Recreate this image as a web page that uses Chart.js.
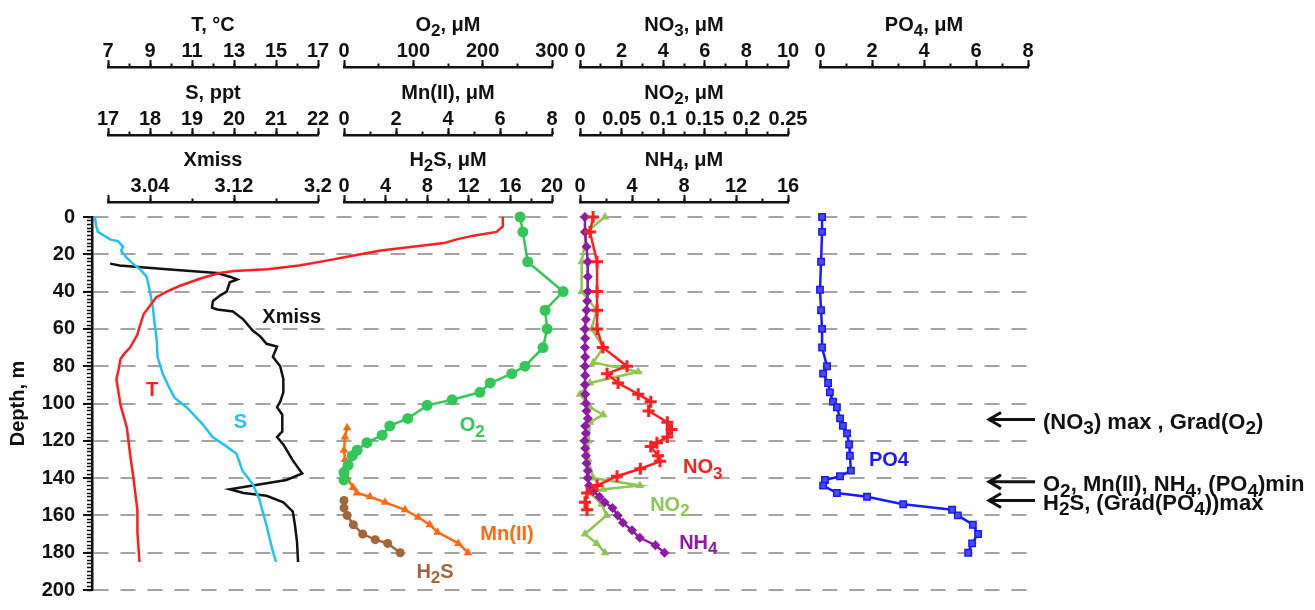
<!DOCTYPE html>
<html>
<head>
<meta charset="utf-8">
<script src="https://cdn.jsdelivr.net/npm/chart.js@4.4.1/dist/chart.umd.min.js"></script>
<style>
  html, body { margin: 0; padding: 0; background: #fff; }
  #wrap { width: 1315px; height: 610px; }
</style>
</head>
<body>
<div id="wrap"><canvas id="grafico" width="1315" height="610"></canvas></div>
<script>
// ---- datos: perfiles verticales (profundidad en m) ----
const tDepth = [0, 5, 8, 10, 12, 14, 16, 18, 21, 23, 26, 28, 29, 30, 33, 37, 40, 43, 49, 52, 59, 63, 70, 73, 76, 82, 87, 94, 101, 113, 127, 139, 157, 169, 185];
const tValue = [25.8, 25.8, 25.5, 24.4, 23.6, 23.0, 21.5, 20.0, 18.5, 17.6, 16.1, 14.6, 13.0, 12.3, 11.4, 10.4, 9.8, 9.3, 8.9, 8.7, 8.5, 8.4, 8.05, 7.8, 7.6, 7.5, 7.4, 7.5, 7.6, 7.9, 8.05, 8.2, 8.4, 8.4, 8.5];

const sDepth = [0, 5, 8, 12, 13, 16, 18, 22, 25, 28, 32, 40, 49, 57, 66, 75, 84, 92, 97, 102, 111, 118, 123, 127, 136, 143, 151, 165, 178, 185];
const sValue = [16.69, 16.72, 16.76, 17.05, 17.24, 17.36, 17.31, 17.45, 17.59, 17.76, 17.92, 18.0, 18.07, 18.11, 18.16, 18.18, 18.3, 18.47, 18.59, 18.87, 19.25, 19.49, 19.82, 20.06, 20.2, 20.44, 20.6, 20.77, 20.91, 21.0];

const xmDepth = [25, 26, 28, 30, 32, 33.5, 35, 40, 42, 45, 48.6, 49.6, 50.7, 55, 61, 64, 68, 69.5, 75, 80, 87, 94, 99, 102, 106, 115, 118, 122, 130.5, 136, 137.5, 141, 144, 146, 148, 149.5, 153, 158, 165, 174, 185];
const xmValue = [3.002, 3.011, 3.056, 3.104, 3.116, 3.123, 3.116, 3.113, 3.107, 3.1, 3.099, 3.104, 3.119, 3.129, 3.138, 3.145, 3.151, 3.161, 3.157, 3.164, 3.167, 3.167, 3.164, 3.161, 3.166, 3.166, 3.161, 3.167, 3.176, 3.183, 3.185, 3.17, 3.138, 3.116, 3.129, 3.151, 3.167, 3.176, 3.178, 3.18, 3.181];

const o2Depth = [0, 8, 24, 40, 50, 60, 70, 80, 84, 89, 94, 98, 101, 108, 112, 117, 121, 125, 128, 133, 137, 141];
const o2Value = [254, 258, 265, 316, 290, 293, 287, 261, 242, 211, 196, 156, 120, 92, 66, 55, 33, 19, 12, 6, 0, 0];

const mnDepth = [113, 118, 125, 130, 135, 140, 145, 148, 150, 153, 157, 161, 165, 169, 175, 180];
const mnValue = [0.12, 0.04, 0, 0.04, 0, 0.12, 0.35, 0.5, 1.0, 1.58, 2.35, 2.85, 3.3, 3.6, 4.4, 4.77];

const h2sDepth = [152, 156, 160, 165, 170, 173, 175, 180];
const h2sValue = [0, 0, 0.3, 0.9, 1.8, 3.0, 4.2, 5.4];

const no3Depth = [0, 8, 24, 40, 50, 60, 70, 80, 84, 89, 95, 99, 104, 110, 114, 118, 121, 123, 128, 131, 135, 139, 144, 148, 153, 157];
const no3Value = [0.63, 0.48, 0.82, 0.82, 0.82, 0.82, 1.1, 2.26, 1.3, 1.83, 2.8, 3.4, 3.3, 4.2, 4.4, 4.2, 3.7, 3.4, 3.75, 3.85, 2.9, 1.78, 0.82, 0.34, 0.24, 0.34];

const no2Depth = [0, 8, 24, 40, 50, 60, 70, 78, 83, 89, 95, 102, 106, 110, 120, 130, 140, 144, 146, 148, 154, 160, 170, 175, 180];
const no2Value = [0.03, 0.008, 0.002, 0.002, 0.02, 0.014, 0.028, 0.016, 0.07, 0.012, 0, 0.012, 0.028, 0.012, 0.01, 0.01, 0.016, 0.072, 0.028, 0.012, 0.026, 0.032, 0.006, 0.02, 0.03];

const nh4Depth = [0, 8, 16, 24, 32, 40, 45, 50, 55, 60, 65, 70, 75, 80, 85, 90, 95, 100, 104, 108, 112, 116, 120, 124, 128, 132, 136, 140, 144, 147, 150, 153, 156, 160, 164, 168, 172, 176, 180];
const nh4Value = [0.38, 0.38, 0.5, 0.6, 0.6, 0.6, 0.55, 0.5, 0.45, 0.38, 0.4, 0.38, 0.4, 0.38, 0.4, 0.38, 0.4, 0.45, 0.5, 0.6, 0.4, 0.45, 0.35, 0.4, 0.45, 0.5, 0.6, 0.6, 0.7, 1.0, 1.5, 1.9, 2.5, 2.9, 3.3, 4.0, 4.6, 5.8, 6.5];

const po4Depth = [0, 8, 24, 39, 50, 60, 70, 80, 84, 89, 94, 99, 102, 108, 112, 116, 122, 128, 136, 139, 141, 144, 148, 150, 154, 157, 160, 165, 170, 175, 180];
const po4Value = [0.08, 0.08, 0.04, 0, 0.04, 0.08, 0.08, 0.27, 0.12, 0.31, 0.38, 0.5, 0.65, 0.77, 0.88, 1.04, 1.12, 1.15, 1.19, 0.77, 0.19, 0.12, 0.65, 1.81, 3.2, 5.08, 5.3, 5.88, 6.08, 5.85, 5.7];

// etiquetas de los ejes
const depthTicks = [0, 20, 40, 60, 80, 100, 120, 140, 160, 180, 200];
const tTicks = [7, 9, 11, 13, 15, 17];
const sTicks = [17, 18, 19, 20, 21, 22];
const xmTicks = [3.04, 3.12, 3.2];
const o2Ticks = [0, 100, 200, 300];
const mnTicks = [0, 2, 4, 6, 8];
const h2sTicks = [0, 4, 8, 12, 16, 20];
const no3Ticks = [0, 2, 4, 6, 8, 10];
const no2Ticks = [0, 0.05, 0.1, 0.15, 0.2, 0.25];
const nh4Ticks = [0, 4, 8, 12, 16];
const po4Ticks = [0, 2, 4, 6, 8];

// ---- layout ----
const FONT = '"Liberation Sans", Arial, Helvetica, sans-serif';
const panels = [[108, 318], [344, 552], [580, 788], [820, 1028]];
const rowBottoms = [67, 135, 202];

const axes = [
  { id: 'T',   panel: 0, row: 0, min: 7,   max: 17,   ticks: tTicks,   minor: 1,     title: 'T, °C' },
  { id: 'S',   panel: 0, row: 1, min: 17,  max: 22,   ticks: sTicks,   minor: 0.5,   title: 'S, ppt' },
  { id: 'XM',  panel: 0, row: 2, min: 3.0, max: 3.2,  ticks: xmTicks,  minor: 0.04,  title: 'Xmiss' },
  { id: 'O2',  panel: 1, row: 0, min: 0,   max: 300,  ticks: o2Ticks,  minor: 50,    title: 'O_{2}, μM' },
  { id: 'MN',  panel: 1, row: 1, min: 0,   max: 8,    ticks: mnTicks,  minor: 1,     title: 'Mn(II), μM' },
  { id: 'H2S', panel: 1, row: 2, min: 0,   max: 20,   ticks: h2sTicks, minor: 2,     title: 'H_{2}S, μM' },
  { id: 'NO3', panel: 2, row: 0, min: 0,   max: 10,   ticks: no3Ticks, minor: 1,     title: 'NO_{3}, μM' },
  { id: 'NO2', panel: 2, row: 1, min: 0,   max: 0.25, ticks: no2Ticks, minor: 0.025, title: 'NO_{2}, μM' },
  { id: 'NH4', panel: 2, row: 2, min: 0,   max: 16,   ticks: nh4Ticks, minor: 2,     title: 'NH_{4}, μM' },
  { id: 'PO4', panel: 3, row: 0, min: 0,   max: 8,    ticks: po4Ticks, minor: 1,     title: 'PO_{4}, μM' }
];

const RED = '#ff1f1f', CYAN = '#22c3f2', BLACK = '#111111', GREEN = '#33c75a',
      ORANGE = '#ff6a10', BROWN = '#a0683a', LGREEN = '#8dc653', PURPLE = '#8e1aa6', BLUE = '#1a1aff';

// dibuja texto con subíndices marcados como _{..}
function richText(ctx, str, x, y, size, color, align) {
  const parts = [];
  str.split(/(_\{[^}]*\})/).forEach(p => {
    if (!p) return;
    if (p.startsWith('_{')) parts.push({ t: p.slice(2, -1), sub: true });
    else parts.push({ t: p, sub: false });
  });
  const big = 'bold ' + size + 'px ' + FONT;
  const small = 'bold ' + Math.round(size * 0.85) + 'px ' + FONT;
  let w = 0;
  parts.forEach(p => { ctx.font = p.sub ? small : big; p.w = ctx.measureText(p.t).width; w += p.w; });
  let cx = align === 'left' ? x : x - w / 2;
  ctx.save();
  ctx.fillStyle = color;
  ctx.textBaseline = 'middle';
  ctx.textAlign = 'left';
  parts.forEach(p => {
    ctx.font = p.sub ? small : big;
    ctx.fillText(p.t, cx, p.sub ? y + size * 0.3 : y);
    cx += p.w;
  });
  ctx.restore();
}

function fmt(v) { return String(+v.toFixed(3)); }

const scales = {
  y: {
    type: 'linear', position: 'left', reverse: true, min: 0, max: 200,
    afterBuildTicks: s => { s.ticks = depthTicks.map(v => ({ value: v })); },
    afterFit: s => { s.width = 92; },
    ticks: { autoSkip: false, padding: 8, color: BLACK, font: { family: FONT, size: 20, weight: 'bold' } },
    grid: { color: '#a4a4a4', lineWidth: 2, tickLength: 9, tickWidth: 2, tickColor: BLACK },
    border: { display: true, color: BLACK, width: 2.5, dash: [15, 12] },
    title: { display: true, text: 'Depth, m', color: BLACK, padding: { top: 6 }, font: { family: FONT, size: 20, weight: 'bold' } }
  },
  yMinor: {
    type: 'linear', position: 'left', reverse: true, min: 0, max: 200,
    afterBuildTicks: s => {
      const t = [];
      for (let v = 0; v <= 200; v += 2) t.push({ value: v });
      s.ticks = t;
    },
    afterFit: s => { s.width = 0; },
    ticks: { display: false },
    grid: { drawOnChartArea: false, tickLength: 5, tickWidth: 1.5, tickColor: BLACK },
    border: { display: false }
  }
};

axes.forEach(a => {
  const majors = [...new Set([a.min, ...a.ticks, a.max])];
  scales[a.id] = {
    type: 'linear', position: 'top', min: a.min, max: a.max,
    afterBuildTicks: s => { s.ticks = majors.map(v => ({ value: v })); },
    afterFit: s => { s.height = 0; },
    grid: { drawOnChartArea: false, tickLength: 7, tickWidth: 2, tickColor: BLACK },
    border: { display: true, color: BLACK, width: 2.5 },
    ticks: {
      autoSkip: false, maxRotation: 0, minRotation: 0, padding: -3, color: BLACK,
      font: { family: FONT, size: 20, weight: 'bold' },
      callback: v => a.ticks.some(t => Math.abs(t - v) < 1e-9) ? fmt(v) : ''
    },
    title: { display: false }
  };
  scales[a.id + 'm'] = {
    type: 'linear', position: 'top', min: a.min, max: a.max,
    afterBuildTicks: s => {
      const t = [];
      const n = Math.round((a.max - a.min) / a.minor);
      for (let i = 0; i <= n; i++) t.push({ value: a.min + i * a.minor });
      s.ticks = t;
    },
    afterFit: s => { s.height = 0; },
    grid: { drawOnChartArea: false, tickLength: 3.5, tickWidth: 2, tickColor: BLACK },
    border: { display: false },
    ticks: { display: false }
  };
});

function serie(axis, depth, vals, color, extra) {
  return Object.assign({
    xAxisID: axis, yAxisID: 'y',
    data: depth.map((d, i) => ({ x: vals[i], y: d })),
    showLine: true, borderColor: color, backgroundColor: color,
    borderWidth: 2.5, pointRadius: 0, tension: 0, clip: false
  }, extra || {});
}

const datasets = [
  serie('T', tDepth, tValue, RED),
  serie('S', sDepth, sValue, CYAN),
  serie('XM', xmDepth, xmValue, BLACK),
  serie('O2', o2Depth, o2Value, GREEN, { pointStyle: 'circle', pointRadius: 5.5, pointBorderWidth: 0 }),
  serie('MN', mnDepth, mnValue, ORANGE, { pointStyle: 'triangle', pointRadius: 5, pointBorderWidth: 0 }),
  serie('H2S', h2sDepth, h2sValue, BROWN, { pointStyle: 'circle', pointRadius: 4.5, pointBorderWidth: 0 }),
  serie('NO3', no3Depth, no3Value, RED, { pointStyle: 'cross', pointRadius: 6, pointBorderWidth: 3 }),
  serie('NH4', nh4Depth, nh4Value, PURPLE, { pointStyle: 'rectRot', pointRadius: 5, pointBorderWidth: 0 }),
  serie('NO2', no2Depth, no2Value, LGREEN, { pointStyle: 'triangle', pointRadius: 5, pointBorderWidth: 0 }),
  serie('PO4', po4Depth, po4Value, BLUE, { pointStyle: 'rect', pointRadius: 4.5, pointBorderWidth: 1.5, backgroundColor: '#4a4aff' })
];

// rótulos de cada serie (eje, valor, profundidad)
const seriesLabels = [
  ['T', 9.1, 93, 'T', RED],
  ['S', 20.15, 110, 'S', CYAN],
  ['XM', 3.175, 54, 'Xmiss', BLACK],
  ['O2', 185, 112, 'O_{2}', GREEN],
  ['MN', 6.27, 170, 'Mn(II)', ORANGE],
  ['H2S', 8.75, 190.5, 'H_{2}S', BROWN],
  ['NO3', 5.9, 134.5, 'NO_{3}', RED],
  ['NO2', 0.108, 154.5, 'NO_{2}', LGREEN],
  ['NH4', 9.1, 175, 'NH_{4}', PURPLE],
  ['PO4', 2.65, 130.5, 'PO4', BLUE]
];

// flechas de la derecha
const arrowNotes = [
  [108.6, '(NO_{3}) max , Grad(O_{2})'],
  [142, 'O_{2}, Mn(II), NH_{4}, (PO_{4})min'],
  [152, 'H_{2}S, (Grad(PO_{4}))max']
];

const panelPlugin = {
  id: 'panelAxes',
  afterLayout(chart) {
    axes.forEach(a => {
      const [l, r] = panels[a.panel];
      const b = rowBottoms[a.row];
      [a.id, a.id + 'm'].forEach(id => {
        const s = chart.scales[id];
        s.left = l; s.right = r; s.width = r - l;
        s.top = b - 60; s.bottom = b; s.height = 60;
        s.configure();
      });
    });
    const ym = chart.scales.yMinor;
    ym.left = chart.chartArea.left; ym.right = chart.chartArea.left; ym.width = 0;
    ym.configure();
  },
  afterDraw(chart) {
    const ctx = chart.ctx;
    const y = chart.scales.y;
    // títulos de los ejes superiores
    axes.forEach(a => {
      const s = chart.scales[a.id];
      richText(ctx, a.title, (s.left + s.right) / 2, s.bottom - 42, 20, BLACK, 'center');
    });
    // rótulos de las series
    seriesLabels.forEach(([id, v, d, txt, col]) => {
      richText(ctx, txt, chart.scales[id].getPixelForValue(v), y.getPixelForValue(d), 20, col, 'center');
    });
    // flechas
    const right = chart.chartArea.right;
    ctx.save();
    ctx.strokeStyle = BLACK;
    ctx.lineWidth = 3;
    arrowNotes.forEach(([d, txt]) => {
      const py = y.getPixelForValue(d);
      const x0 = right - 46;
      ctx.beginPath();
      ctx.moveTo(x0, py); ctx.lineTo(right, py);
      ctx.moveTo(x0 + 12, py - 7); ctx.lineTo(x0, py); ctx.lineTo(x0 + 12, py + 7);
      ctx.stroke();
      richText(ctx, txt, right + 8, py + 3, 22, BLACK, 'left');
    });
    ctx.restore();
  }
};

const grafico = new Chart(document.getElementById('grafico'), {
  type: 'scatter',
  data: { datasets: datasets },
  options: {
    responsive: false,
    animation: false,
    events: [],
    layout: { padding: { left: 0, right: 280, top: 217, bottom: 10 } },
    plugins: { legend: { display: false }, tooltip: { enabled: false } },
    scales: scales
  },
  plugins: [panelPlugin]
});
</script>
</body>
</html>
